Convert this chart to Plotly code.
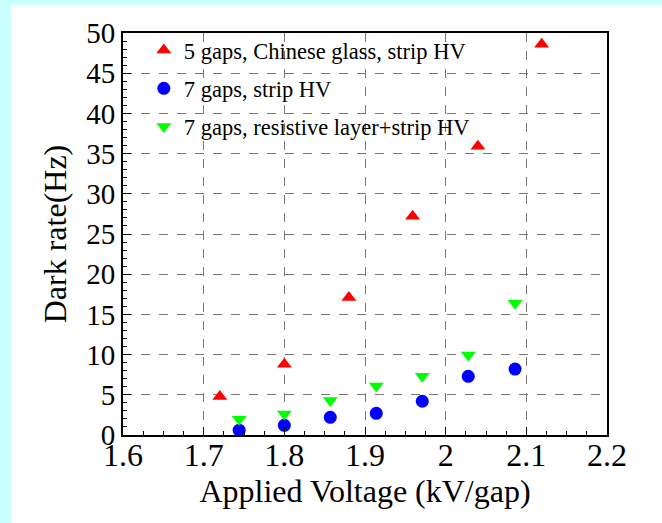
import plotly.graph_objects as go

# Data
red_x = [1.72, 1.80, 1.88, 1.959, 2.040, 2.119]
red_y = [4.8, 8.8, 17.1, 27.2, 35.9, 48.6]
blue_x = [1.744, 1.80, 1.857, 1.914, 1.971, 2.028, 2.086]
blue_y = [0.6, 1.2, 2.2, 2.7, 4.2, 7.3, 8.2]
green_x = [1.744, 1.80, 1.857, 1.914, 1.971, 2.028, 2.086]
green_y = [1.95, 2.6, 4.3, 6.1, 7.3, 9.95, 16.4]

names = ["5 gaps, Chinese glass, strip HV", "7 gaps, strip HV",
         "7 gaps, resistive layer+strip HV"]

FONT = "Liberation Serif, Times New Roman, serif"

fig = go.Figure()
fig.add_trace(go.Scatter(x=red_x, y=red_y, mode="markers", name=names[0], legendgroup="a",
                         marker=dict(symbol="triangle-up", size=13, color="#ff0000")))
fig.add_trace(go.Scatter(x=blue_x, y=blue_y, mode="markers", name=names[1], legendgroup="b",
                         marker=dict(symbol="circle", size=13, color="#0000ff")))
fig.add_trace(go.Scatter(x=green_x, y=green_y, mode="markers", name=names[2], legendgroup="c",
                         marker=dict(symbol="triangle-down", size=13, color="#00ff00")))

L, R, T, B = 123, 55, 33, 88
W, H = 662, 523
pw, ph = W - L - R, H - T - B

def px_x(p):
    return (p - L) / pw

def px_y(p):
    return (H - B - p) / ph

fig.update_layout(
    width=W, height=H,
    margin=dict(l=L, r=R, t=T, b=B),
    paper_bgcolor="white", plot_bgcolor="white",
    font=dict(family=FONT, color="black", size=22),
    showlegend=True,
    legend=dict(x=0.043, y=1.01, xanchor="left", yanchor="top",
                bgcolor="rgba(0,0,0,0)", borderwidth=0,
                font=dict(family=FONT, size=22.5, color="black"),
                tracegroupgap=6),
    xaxis=dict(range=[1.6, 2.2], dtick=0.1, tick0=1.6, automargin=False,
               showline=True, linecolor="black", linewidth=2, mirror=True,
               ticks="inside", ticklen=8, tickcolor="black",
               ticklabelstandoff=-9,
               showgrid=True, gridcolor="#777777", griddash="dash", gridwidth=1,
               zeroline=False,
               minor=dict(dtick=0.025, ticks="inside", ticklen=4, tickcolor="black", showgrid=False),
               tickfont=dict(family=FONT, size=32),
               title=dict(text="Applied Voltage (kV/gap)", font=dict(family=FONT, size=32), standoff=7)),
    yaxis=dict(range=[0, 50], dtick=5, automargin=False,
               showline=True, linecolor="black", linewidth=2, mirror=True,
               ticks="inside", ticklen=8, tickcolor="black",
               showgrid=True, gridcolor="#777777", griddash="dash", gridwidth=1,
               zeroline=False,
               minor=dict(dtick=1, ticks="inside", ticklen=4, tickcolor="black", showgrid=False),
               tickfont=dict(family=FONT, size=29),
               title=dict(text="Dark rate(Hz)", font=dict(family=FONT, size=32), standoff=10)),
    shapes=[
        dict(type="rect", xref="paper", yref="paper", layer="below",
             x0=px_x(0), x1=px_x(11), y0=px_y(H), y1=px_y(0),
             fillcolor="#ccffff", line=dict(width=0)),
        dict(type="rect", xref="paper", yref="paper", layer="below",
             x0=px_x(0), x1=px_x(W), y0=px_y(5), y1=px_y(0),
             fillcolor="#ccffff", line=dict(width=0)),
    ],
)

fig.write_html("out.html")
